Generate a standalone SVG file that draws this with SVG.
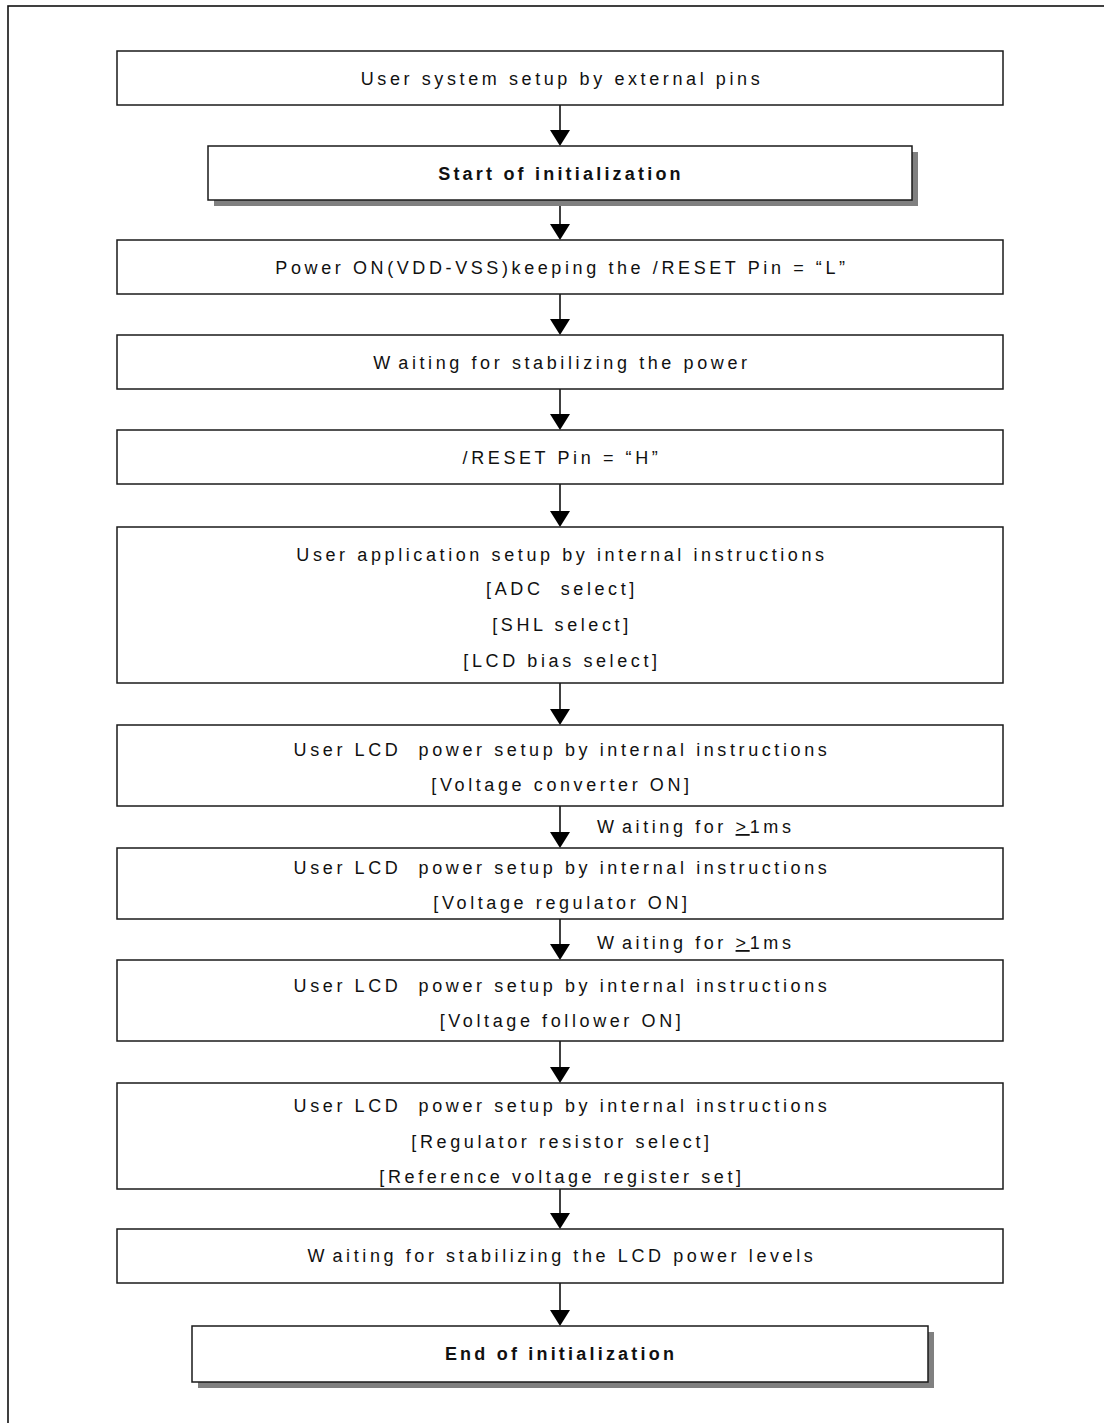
<svg xmlns="http://www.w3.org/2000/svg" width="1104" height="1423" viewBox="0 0 1104 1423">
  <style>
    .frame { fill: none; stroke: #111; stroke-width: 1.6; }
    .box { fill: #fff; stroke: #1a1a1a; stroke-width: 1.5; }
    .shadow { fill: #808080; }
    .t { font-family: "Liberation Sans", Arial, sans-serif; font-size: 18px; letter-spacing: 3.6px; fill: #111; text-anchor: middle; white-space: pre; }
    .b { font-weight: bold; letter-spacing: 3.2px; }
    .lbl { text-anchor: start; }
    .wire { stroke: #111; stroke-width: 1.6; fill: none; }
    .head { fill: #000; }
  </style>
  <defs>
    <!-- downward arrowhead, tip at origin -->
    <polygon id="ah" points="-10,-16 10,-16 0,0" class="head"/>
  </defs>

  <rect class="frame" x="8" y="6" width="1110" height="1440"/>

  <g id="connectors">
    <line class="wire" x1="560" y1="105" x2="560" y2="132"/><use href="#ah" x="560" y="146"/>
    <line class="wire" x1="560" y1="200" x2="560" y2="226"/><use href="#ah" x="560" y="240"/>
    <line class="wire" x1="560" y1="294" x2="560" y2="321"/><use href="#ah" x="560" y="335"/>
    <line class="wire" x1="560" y1="389" x2="560" y2="416"/><use href="#ah" x="560" y="430"/>
    <line class="wire" x1="560" y1="484" x2="560" y2="513"/><use href="#ah" x="560" y="527"/>
    <line class="wire" x1="560" y1="683" x2="560" y2="711"/><use href="#ah" x="560" y="725"/>
    <line class="wire" x1="560" y1="806" x2="560" y2="834"/><use href="#ah" x="560" y="848"/>
    <line class="wire" x1="560" y1="919" x2="560" y2="946"/><use href="#ah" x="560" y="960"/>
    <line class="wire" x1="560" y1="1041" x2="560" y2="1069"/><use href="#ah" x="560" y="1083"/>
    <line class="wire" x1="560" y1="1189" x2="560" y2="1215"/><use href="#ah" x="560" y="1229"/>
    <line class="wire" x1="560" y1="1283" x2="560" y2="1312"/><use href="#ah" x="560" y="1326"/>
    <text class="t lbl" x="597" y="833">W<tspan dx="5">aiting for </tspan><tspan text-decoration="underline">&gt;</tspan>1ms</text>
    <text class="t lbl" x="597" y="949">W<tspan dx="5">aiting for </tspan><tspan text-decoration="underline">&gt;</tspan>1ms</text>
  </g>

  <g id="n1">
    <rect class="box" x="117" y="51" width="886" height="54"/>
    <text class="t" x="562" y="85">User system setup by external pins</text>
  </g>
  <g id="n2">
    <rect class="shadow" x="214" y="152" width="704" height="54"/>
    <rect class="box" x="208" y="146" width="704" height="54"/>
    <text class="t b" x="561" y="180">Start of initialization</text>
  </g>
  <g id="n3">
    <rect class="box" x="117" y="240" width="886" height="54"/>
    <text class="t" x="562" y="274">Power ON(VDD-VSS)keeping the /RESET Pin = “L”</text>
  </g>
  <g id="n4">
    <rect class="box" x="117" y="335" width="886" height="54"/>
    <text class="t" x="562" y="369">W<tspan dx="5">aiting for stabilizing the power</tspan></text>
  </g>
  <g id="n5">
    <rect class="box" x="117" y="430" width="886" height="54"/>
    <text class="t" x="562" y="464">/RESET Pin = “H”</text>
  </g>
  <g id="n6">
    <rect class="box" x="117" y="527" width="886" height="156"/>
    <text class="t" x="562" y="561">User application setup by internal instructions</text>
    <text class="t" x="562" y="595">[ADC  select]</text>
    <text class="t" x="562" y="631">[SHL select]</text>
    <text class="t" x="562" y="667">[LCD bias select]</text>
  </g>
  <g id="n7">
    <rect class="box" x="117" y="725" width="886" height="81"/>
    <text class="t" x="562" y="756">User LCD  power setup by internal instructions</text>
    <text class="t" x="562" y="791">[Voltage converter ON]</text>
  </g>
  <g id="n8">
    <rect class="box" x="117" y="848" width="886" height="71"/>
    <text class="t" x="562" y="874">User LCD  power setup by internal instructions</text>
    <text class="t" x="562" y="909">[Voltage regulator ON]</text>
  </g>
  <g id="n9">
    <rect class="box" x="117" y="960" width="886" height="81"/>
    <text class="t" x="562" y="992">User LCD  power setup by internal instructions</text>
    <text class="t" x="562" y="1027">[Voltage follower ON]</text>
  </g>
  <g id="n10">
    <rect class="box" x="117" y="1083" width="886" height="106"/>
    <text class="t" x="562" y="1112">User LCD  power setup by internal instructions</text>
    <text class="t" x="562" y="1148">[Regulator resistor select]</text>
    <text class="t" x="562" y="1183">[Reference voltage register set]</text>
  </g>
  <g id="n11">
    <rect class="box" x="117" y="1229" width="886" height="54"/>
    <text class="t" x="562" y="1262">W<tspan dx="5">aiting for stabilizing the LCD power levels</tspan></text>
  </g>
  <g id="n12">
    <rect class="shadow" x="198" y="1332" width="736" height="56"/>
    <rect class="box" x="192" y="1326" width="736" height="56"/>
    <text class="t b" x="561" y="1360">End of initialization</text>
  </g>
</svg>
